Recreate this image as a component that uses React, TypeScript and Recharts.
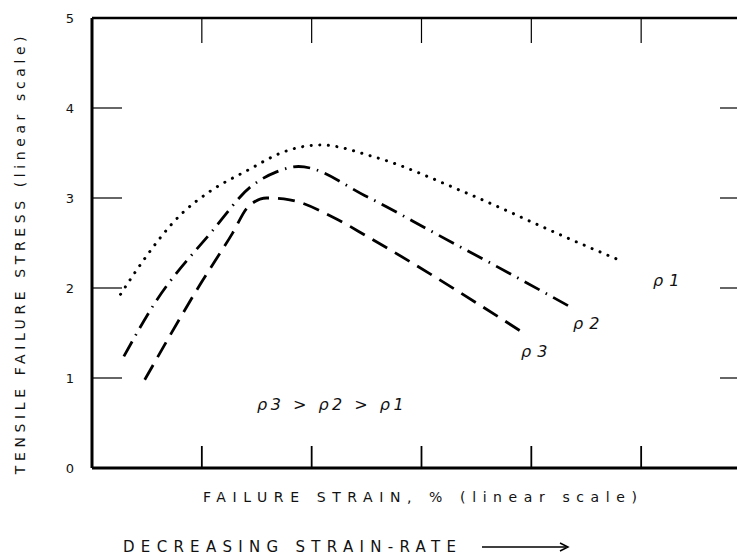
import React from 'react';
import { LineChart, Line, XAxis, YAxis } from 'recharts';

// curves (x = strain units, y = stress)
const p1Data = [
  { x: 0.26, y: 1.93 },
  { x: 0.39, y: 2.17 },
  { x: 0.82, y: 2.83 },
  { x: 1.07, y: 3.07 },
  { x: 1.42, y: 3.31 },
  { x: 1.74, y: 3.51 },
  { x: 2.08, y: 3.59 },
  { x: 2.56, y: 3.46 },
  { x: 3.42, y: 3.05 },
  { x: 4.34, y: 2.55 },
  { x: 4.84, y: 2.29 },
];

const p2Data = [
  { x: 0.29, y: 1.24 },
  { x: 0.56, y: 1.81 },
  { x: 1.1, y: 2.64 },
  { x: 1.44, y: 3.12 },
  { x: 1.68, y: 3.29 },
  { x: 1.88, y: 3.35 },
  { x: 2.51, y: 3.01 },
  { x: 3.12, y: 2.61 },
  { x: 3.79, y: 2.17 },
  { x: 4.37, y: 1.78 },
];

const p3Data = [
  { x: 0.48, y: 0.98 },
  { x: 0.98, y: 2.03 },
  { x: 1.28, y: 2.61 },
  { x: 1.42, y: 2.9 },
  { x: 1.59, y: 3.0 },
  { x: 1.8, y: 2.98 },
  { x: 2.19, y: 2.79 },
  { x: 2.51, y: 2.57 },
  { x: 3.93, y: 1.5 },
];

const xTicks = [1, 2, 3, 4, 5];
const yTicks = [0, 1, 2, 3, 4, 5];
const yRightTicks = [1, 2, 3, 4];

const FONT = "'DejaVu Sans', sans-serif";

const txt = (left: number, top: number, size: number, spacing: number, extra: React.CSSProperties = {}) => ({
  position: 'absolute' as const,
  left,
  top,
  fontFamily: FONT,
  fontSize: size,
  letterSpacing: spacing,
  color: '#111',
  whiteSpace: 'nowrap' as const,
  lineHeight: 1,
  ...extra,
});

// tick marks only, no label
const NoLabel = () => <g />;

const App: React.FC = () => {
  return (
    <div style={{ position: 'absolute', left: 0, top: 0, width: 737, height: 559, overflow: 'hidden', background: '#fff' }}>
      <LineChart width={760} height={559} margin={{ top: 0, right: 0, bottom: 0, left: 0 }}>
        <XAxis
          dataKey="x"
          type="number"
          domain={[0, 5.9]}
          ticks={xTicks}
          allowDataOverflow
          height={91}
          tick={NoLabel}
          tickSize={-22}
          tickLine={{ stroke: '#000', strokeWidth: 1.8 }}
          axisLine={{ stroke: '#000', strokeWidth: 3 }}
        />
        <XAxis
          xAxisId="top"
          dataKey="x"
          orientation="top"
          type="number"
          domain={[0, 5.9]}
          ticks={xTicks}
          allowDataOverflow
          height={18}
          tick={NoLabel}
          tickSize={-25}
          tickLine={{ stroke: '#000', strokeWidth: 1.2 }}
          axisLine={{ stroke: '#000', strokeWidth: 2.5 }}
        />
        <YAxis
          type="number"
          domain={[0, 5]}
          ticks={yTicks}
          width={92}
          tickSize={-30}
          tickMargin={48}
          tick={{ fill: '#111', fontSize: 13, fontFamily: FONT }}
          tickLine={{ stroke: '#000', strokeWidth: 1.2 }}
          axisLine={{ stroke: '#000', strokeWidth: 3 }}
        />
        <YAxis
          yAxisId="r"
          orientation="right"
          type="number"
          domain={[0, 5]}
          ticks={yRightTicks}
          allowDataOverflow
          width={20}
          tick={NoLabel}
          tickSize={-20}
          tickLine={{ stroke: '#000', strokeWidth: 1.2 }}
          axisLine={false}
        />
        {/* p1 is bound to the top / right axes (same domains) so those axes get their ticks */}
        <Line
          xAxisId="top"
          yAxisId="r"
          data={p1Data}
          dataKey="y"
          type="monotone"
          stroke="#000"
          strokeWidth={3}
          strokeDasharray="0.1 8.5"
          strokeLinecap="round"
          dot={false}
          isAnimationActive={false}
        />
        <Line
          data={p2Data}
          dataKey="y"
          type="monotone"
          stroke="#000"
          strokeWidth={2.8}
          strokeDasharray="17 7 1.5 7"
          dot={false}
          isAnimationActive={false}
        />
        <Line
          data={p3Data}
          dataKey="y"
          type="monotone"
          stroke="#000"
          strokeWidth={2.8}
          strokeDasharray="17 9"
          dot={false}
          isAnimationActive={false}
        />
      </LineChart>

      {/* curve labels */}
      <div style={txt(653, 273, 16, 6, { fontStyle: 'italic' })}>ρ1</div>
      <div style={txt(573, 316, 16, 6, { fontStyle: 'italic' })}>ρ2</div>
      <div style={txt(521, 344, 16, 6, { fontStyle: 'italic' })}>ρ3</div>
      <div style={txt(257, 397, 16, 3.5, { fontStyle: 'italic' })}>ρ3 &gt; ρ2 &gt; ρ1</div>

      {/* axis titles */}
      <div style={txt(203, 490, 14, 6.6)}>FAILURE STRAIN, % (linear scale)</div>
      <div
        style={txt(20, 253, 14, 4.6, {
          transform: 'translate(-50%, -50%) rotate(-90deg)',
        })}
      >
        TENSILE FAILURE STRESS (linear scale)
      </div>
      <div style={txt(123, 540, 15, 6.3)}>DECREASING STRAIN-RATE</div>
      <svg style={{ position: 'absolute', left: 482, top: 541 }} width={90} height={12}>
        <line x1={0} y1={6} x2={84} y2={6} stroke="#000" strokeWidth={1.3} />
        <path d="M78,2 L86,6 L78,10" fill="none" stroke="#000" strokeWidth={1.5} />
      </svg>
    </div>
  );
};

export default App;
